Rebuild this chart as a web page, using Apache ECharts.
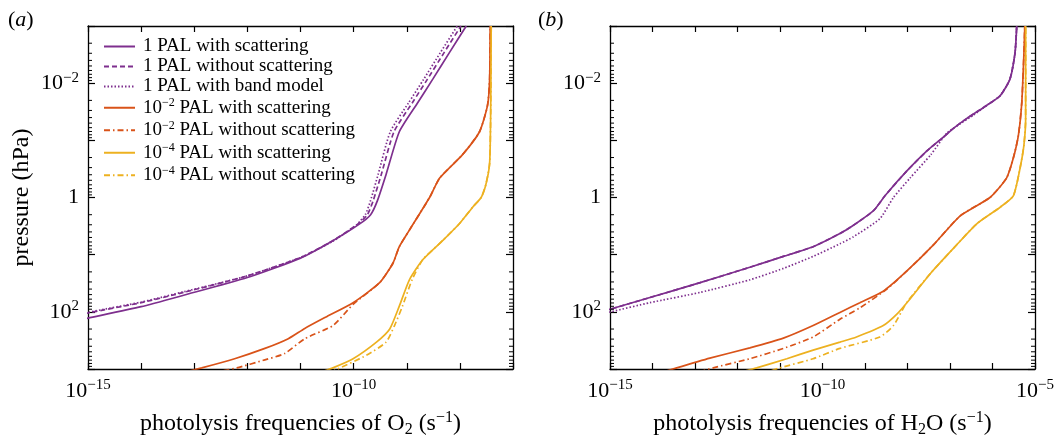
<!DOCTYPE html>
<html><head><meta charset="utf-8">
<script src="https://cdn.jsdelivr.net/npm/echarts@6/dist/echarts.min.js"></script>
<style>html,body{margin:0;padding:0;background:#fff}#c{width:1061px;height:443px}</style>
</head><body><div id="c"></div>
<script>
// ---- tick labels (decade exponents) ----
const xLabelExpA = [-15, -10];
const xLabelExpB = [-15, -10, -5];
const yLabelExp = [-2, 0, 2];
const minorMultipliers = [2, 3, 4, 5, 6, 7, 8, 9];
const minorDecades = [-3, -2, -1, 0, 1, 2];

const seriesNames = ['1 PAL with scattering', '1 PAL without scattering', '1 PAL with band model',
  '10⁻² PAL with scattering', '10⁻² PAL without scattering', '10⁻⁴ PAL with scattering', '10⁻⁴ PAL without scattering'];

// ---- panel (a): O2, values as log10 J (s^-1) and log10 p (hPa) ----
const a_pal1_scat_J = [-15.5, -15, -14, -13.2, -12, -11, -10.4, -9.9, -9.68, -9.55, -9.39, -9.14, -8.8, -8.51, -8.2, -7.88];
const a_pal1_scat_p = [2.21, 2.11, 1.91, 1.71, 1.40, 1.06, 0.76, 0.47, 0.30, 0.05, -0.40, -1.15, -1.65, -2.07, -2.53, -3.0];
const a_pal1_noscat_J = [-15.5, -15, -14, -13.2, -12, -11, -10.4, -9.93, -9.74, -9.63, -9.48, -9.24, -8.9, -8.61, -8.3, -7.98];
const a_pal1_noscat_p = [2.13, 2.02, 1.84, 1.66, 1.37, 1.05, 0.76, 0.47, 0.30, 0.05, -0.40, -1.15, -1.65, -2.07, -2.53, -3.0];
const a_pal1_band_J = [-15.5, -15, -14, -13.2, -12, -11, -10.4, -9.95, -9.78, -9.68, -9.54, -9.31, -8.97, -8.68, -8.37, -8.05];
const a_pal1_band_p = [2.12, 2.01, 1.83, 1.65, 1.37, 1.05, 0.77, 0.48, 0.30, 0.05, -0.40, -1.15, -1.65, -2.07, -2.53, -3.0];
const a_pal2_scat_J = [-13.5, -12.86, -12.24, -11.67, -11.23, -10.92, -10.5, -10.01, -9.51, -9.26, -9.14, -8.95, -8.57, -8.38, -7.95, -7.63, -7.48, -7.44, -7.43];
const a_pal2_scat_p = [3.13, 2.98, 2.82, 2.64, 2.47, 2.29, 2.08, 1.84, 1.49, 1.15, 0.86, 0.57, 0.0, -0.34, -0.75, -1.15, -1.61, -2.07, -3.0];
const a_pal2_noscat_J = [-12.7, -12.20, -11.67, -11.30, -10.92, -10.39, -10.01, -9.51, -9.26, -9.14, -8.95, -8.57, -8.38, -7.95, -7.63, -7.48, -7.44, -7.43];
const a_pal2_noscat_p = [3.08, 2.98, 2.84, 2.73, 2.47, 2.24, 1.87, 1.49, 1.15, 0.86, 0.57, 0.0, -0.34, -0.75, -1.15, -1.61, -2.07, -3.0];
const a_pal4_scat_J = [-10.6, -10.39, -10.01, -9.57, -9.32, -9.14, -8.95, -8.70, -8.32, -8.01, -7.76, -7.60, -7.51, -7.44, -7.42, -7.41];
const a_pal4_scat_p = [3.05, 2.98, 2.82, 2.53, 2.30, 1.90, 1.44, 1.09, 0.75, 0.46, 0.17, 0.0, -0.23, -0.6, -1.5, -3.0];
const a_pal4_noscat_J = [-10.45, -10.30, -9.76, -9.39, -9.23, -9.08, -8.90, -8.70, -8.32, -8.01, -7.76, -7.60, -7.51, -7.44, -7.42, -7.41];
const a_pal4_noscat_p = [3.06, 3.0, 2.76, 2.53, 2.24, 1.90, 1.44, 1.09, 0.75, 0.46, 0.17, 0.0, -0.23, -0.6, -1.5, -3.0];

// ---- panel (b): H2O, values as log10 J (s^-1) and log10 p (hPa) ----
const b_pal1_scat_J = [-15.5, -14.98, -14.06, -12.88, -11.71, -10.92, -10.22, -9.59, -9.28, -8.80, -8.53, -8.02, -7.55, -7.15, -6.92, -6.61, -6.14, -5.82, -5.59, -5.47, -5.43];
const b_pal1_scat_p = [2.05, 1.95, 1.75, 1.49, 1.22, 1.03, 0.86, 0.63, 0.49, 0.23, -0.03, -0.46, -0.81, -1.06, -1.21, -1.38, -1.61, -1.78, -2.07, -2.53, -3.0];
const b_pal1_noscat_J = [-15.5, -14.98, -14.06, -12.88, -11.71, -10.92, -10.22, -9.59, -9.28, -8.80, -8.53, -8.02, -7.55, -7.15, -6.92, -6.61, -6.14, -5.82, -5.59, -5.47, -5.43];
const b_pal1_noscat_p = [2.05, 1.95, 1.75, 1.49, 1.22, 1.03, 0.86, 0.63, 0.49, 0.23, -0.03, -0.46, -0.81, -1.06, -1.21, -1.38, -1.61, -1.78, -2.07, -2.53, -3.0];
const b_pal1_band_J = [-15.5, -14.98, -14.06, -12.88, -11.71, -10.92, -10.22, -9.59, -9.28, -8.65, -8.33, -7.94, -7.45, -7.08, -6.76, -6.45, -6.14, -5.82, -5.59, -5.47, -5.43];
const b_pal1_band_p = [2.10, 2.0, 1.84, 1.66, 1.44, 1.24, 1.03, 0.81, 0.69, 0.37, 0.0, -0.34, -0.75, -1.12, -1.29, -1.44, -1.61, -1.78, -2.07, -2.53, -3.0];
const b_pal2_scat_J = [-14.0, -13.43, -12.65, -11.71, -10.92, -10.22, -9.59, -9.12, -8.57, -8.02, -7.39, -6.76, -6.06, -5.67, -5.51, -5.39, -5.31, -5.26, -5.24];
const b_pal2_scat_p = [3.11, 2.98, 2.81, 2.63, 2.46, 2.24, 2.01, 1.84, 1.64, 1.29, 0.83, 0.32, 0.0, -0.34, -0.69, -1.09, -1.67, -2.53, -3.0];
const b_pal2_noscat_J = [-13.2, -12.57, -11.71, -10.92, -10.22, -9.59, -9.12, -8.50, -8.02, -7.39, -6.76, -6.06, -5.67, -5.51, -5.39, -5.31, -5.26, -5.24];
const b_pal2_noscat_p = [3.12, 2.98, 2.82, 2.64, 2.44, 2.13, 1.93, 1.61, 1.29, 0.83, 0.32, 0.0, -0.34, -0.69, -1.09, -1.67, -2.53, -3.0];
const b_pal4_scat_J = [-12.1, -11.55, -10.84, -10.22, -9.59, -9.20, -8.57, -8.25, -7.98, -7.45, -6.92, -6.37, -5.82, -5.51, -5.35, -5.26, -5.22, -5.22];
const b_pal4_scat_p = [3.09, 2.98, 2.82, 2.67, 2.53, 2.44, 2.24, 2.04, 1.81, 1.32, 0.89, 0.46, 0.17, -0.03, -0.52, -0.92, -1.38, -3.0];
const b_pal4_noscat_J = [-11.5, -11.0, -10.22, -9.59, -8.65, -8.33, -8.02, -7.45, -6.92, -6.37, -5.82, -5.51, -5.35, -5.26, -5.22, -5.22];
const b_pal4_noscat_p = [3.1, 2.98, 2.82, 2.64, 2.44, 2.24, 1.84, 1.32, 0.89, 0.46, 0.17, -0.03, -0.52, -0.92, -1.38, -3.0];

// ---- styling ----
const FONT = 'Liberation Serif';
const PURPLE = '#7E2F8E', ORANGE = '#D95319', YELLOW = '#EDB120';
const SOLID = 'solid', DASH = [5, 3], DOT = [1.5, 2], DASHDOT = [6, 3, 1.5, 3];
const GRIDS = [{left: 88, top: 26, width: 425, height: 348}, {left: 610, top: 26, width: 425, height: 348}];

function pairs(J, p) { return J.map((x, i) => [x, p[i]]); }
function powLabel(e) {
  if (e === 0) return '1';
  return '10{sup|' + (e < 0 ? '\u2212' : '') + Math.abs(e) + '}';
}

function makeX(gi, max, labels, name) {
  const common = {
    type: 'value', gridIndex: gi, min: -15, max: max, interval: 1,
    splitLine: {show: false},
    axisLine: {show: true, onZero: false, lineStyle: {color: '#000', width: 1.3}},
    axisTick: {show: true, inside: true, length: 6, lineStyle: {color: '#000', width: 1.2}}
  };
  return [
    Object.assign({}, common, {
      position: 'bottom', name: name, nameLocation: 'middle', nameGap: 41,
      nameTextStyle: {fontFamily: FONT, fontSize: 24, color: '#000', lineHeight: 28,
        rich: {sub: {fontFamily: FONT, fontSize: 16, lineHeight: 10, verticalAlign: 'bottom'},
               sup: {fontFamily: FONT, fontSize: 16, lineHeight: 12, verticalAlign: 'top'}}},
      axisLabel: {show: true, margin: 9, color: '#000', fontFamily: FONT, fontSize: 22, lineHeight: 26,
        formatter: v => { const e = Math.round(v); return labels.indexOf(e) >= 0 ? powLabel(e) : ''; },
        rich: {sup: {fontFamily: FONT, fontSize: 15, lineHeight: 13, verticalAlign: 'top'}}}
    }),
    Object.assign({}, common, {position: 'top', axisLabel: {show: false}})
  ];
}
function makeY(gi, name) {
  const common = {
    type: 'value', gridIndex: gi, min: -3, max: 3, interval: 1, inverse: true,
    splitLine: {show: false},
    axisLine: {show: true, onZero: false, lineStyle: {color: '#000', width: 1.3}},
    axisTick: {show: true, inside: true, length: 7, lineStyle: {color: '#000', width: 1.2}}
  };
  return [
    Object.assign({}, common, {
      position: 'left', name: name || '', nameLocation: 'middle', nameGap: 53, nameRotate: 90,
      nameTextStyle: {fontFamily: FONT, fontSize: 24, color: '#000', lineHeight: 26},
      axisLabel: {show: true, margin: 9, color: '#000', fontFamily: FONT, fontSize: 22, lineHeight: 26,
        formatter: v => { const e = Math.round(v); return yLabelExp.indexOf(e) >= 0 ? powLabel(e) : ''; },
        rich: {sup: {fontFamily: FONT, fontSize: 15, lineHeight: 13, verticalAlign: 'top'}}}
    }),
    Object.assign({}, common, {position: 'right', axisLabel: {show: false}})
  ];
}

function line(name, J, p, color, type, gi, z) {
  return {
    type: 'line', name: name, xAxisIndex: gi * 2, yAxisIndex: gi * 2,
    data: pairs(J, p), symbol: 'none', showSymbol: false, smooth: 0.2, clip: true,
    lineStyle: {color: color, width: 1.7, type: type}, itemStyle: {color: color},
    z: z, animation: false
  };
}

const minorVals = [];
minorDecades.forEach(k => minorMultipliers.forEach(m => minorVals.push(k + Math.log10(m))));
function minorTicks(gi) {
  return {
    type: 'custom', xAxisIndex: gi * 2, yAxisIndex: gi * 2, silent: true, clip: false, z: 10,
    encode: {x: 0, y: 1},
    data: minorVals.map(v => [-15, v]),
    renderItem: function (params, api) {
      const y = api.coord([api.value(0), api.value(1)])[1];
      const cs = params.coordSys;
      return {type: 'group', children: [
        {type: 'line', shape: {x1: cs.x, y1: y, x2: cs.x + 4, y2: y}, style: {stroke: '#000', lineWidth: 1}},
        {type: 'line', shape: {x1: cs.x + cs.width, y1: y, x2: cs.x + cs.width - 4, y2: y}, style: {stroke: '#000', lineWidth: 1}}
      ]};
    },
    animation: false
  };
}

const series = [
  line(seriesNames[2], a_pal1_band_J, a_pal1_band_p, PURPLE, DOT, 0, 2),
  line(seriesNames[1], a_pal1_noscat_J, a_pal1_noscat_p, PURPLE, DASH, 0, 2),
  line(seriesNames[0], a_pal1_scat_J, a_pal1_scat_p, PURPLE, SOLID, 0, 3),
  line(seriesNames[4], a_pal2_noscat_J, a_pal2_noscat_p, ORANGE, DASHDOT, 0, 2),
  line(seriesNames[3], a_pal2_scat_J, a_pal2_scat_p, ORANGE, SOLID, 0, 3),
  line(seriesNames[6], a_pal4_noscat_J, a_pal4_noscat_p, YELLOW, DASHDOT, 0, 2),
  line(seriesNames[5], a_pal4_scat_J, a_pal4_scat_p, YELLOW, SOLID, 0, 3),
  line(seriesNames[2], b_pal1_band_J, b_pal1_band_p, PURPLE, DOT, 1, 2),
  line(seriesNames[1], b_pal1_noscat_J, b_pal1_noscat_p, PURPLE, DASH, 1, 2),
  line(seriesNames[0], b_pal1_scat_J, b_pal1_scat_p, PURPLE, SOLID, 1, 3),
  line(seriesNames[4], b_pal2_noscat_J, b_pal2_noscat_p, ORANGE, DASHDOT, 1, 2),
  line(seriesNames[3], b_pal2_scat_J, b_pal2_scat_p, ORANGE, SOLID, 1, 3),
  line(seriesNames[6], b_pal4_noscat_J, b_pal4_noscat_p, YELLOW, DASHDOT, 1, 2),
  line(seriesNames[5], b_pal4_scat_J, b_pal4_scat_p, YELLOW, SOLID, 1, 3),
  minorTicks(0), minorTicks(1)
];

function legendText(n) {
  const m = n.match(/^10([⁻²⁴]+)(.*)$/);
  if (!m) return '{p|' + n + '}';
  const exp = m[1].replace('⁻', '\u2212').replace('²', '2').replace('⁴', '4');
  return '{b|10}{sup|' + exp + '}{b|' + m[2] + '}';
}

const chart = echarts.init(document.getElementById('c'), null, {renderer: 'canvas'});
chart.setOption({
  animation: false,
  backgroundColor: '#fff',
  title: [
    {text: '({i|a})', left: 3, top: 4, textStyle: {fontFamily: FONT, fontSize: 22, fontWeight: 'normal', color: '#000',
      rich: {i: {fontFamily: FONT, fontSize: 22, fontStyle: 'italic', color: '#000'}}}},
    {text: '({i|b})', left: 533, top: 4, textStyle: {fontFamily: FONT, fontSize: 22, fontWeight: 'normal', color: '#000',
      rich: {i: {fontFamily: FONT, fontSize: 22, fontStyle: 'italic', color: '#000'}}}}
  ],
  legend: {
    data: seriesNames, orient: 'vertical', left: 98, top: 32,
    itemWidth: 31, itemHeight: 10, itemGap: 1, selectedMode: false,
    itemStyle: {opacity: 0, color: 'transparent', borderWidth: 0},
    textStyle: {fontFamily: FONT, fontSize: 19, color: '#000', lineHeight: 16.5, padding: [0, 0, 0, 3],
      rich: {
        p: {fontFamily: FONT, fontSize: 19, color: '#000', lineHeight: 16.5},
        b: {fontFamily: FONT, fontSize: 19, color: '#000', lineHeight: 21.5},
        sup: {fontFamily: FONT, fontSize: 12, color: '#000', lineHeight: 11, verticalAlign: 'top'}
      }},
    formatter: legendText
  },
  grid: GRIDS,
  xAxis: makeX(0, -7, xLabelExpA, 'photolysis frequencies of O{sub|2} (s{sup|\u22121})')
    .concat(makeX(1, -5, xLabelExpB, 'photolysis frequencies of H{sub|2}O (s{sup|\u22121})')),
  yAxis: makeY(0, 'pressure (hPa)').concat(makeY(1, '')),
  series: series
});
</script>
</body></html>
